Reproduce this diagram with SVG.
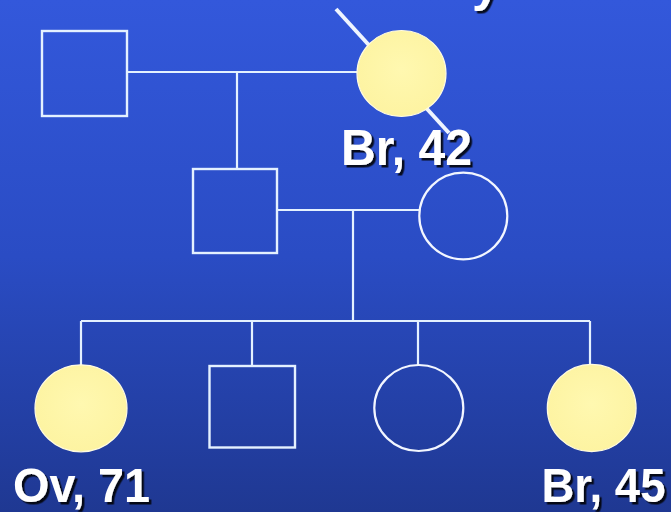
<svg xmlns="http://www.w3.org/2000/svg" width="671" height="512" viewBox="0 0 671 512">
  <defs>
    <linearGradient id="bg" x1="0" y1="0" x2="0" y2="1">
      <stop offset="0" stop-color="#3358db"/>
      <stop offset="0.5" stop-color="#2a4cc4"/>
      <stop offset="1" stop-color="#1f3892"/>
    </linearGradient>
    <radialGradient id="yel" cx="0.5" cy="0.45" r="0.6">
      <stop offset="0" stop-color="#fff8b0"/>
      <stop offset="1" stop-color="#fdf3a0"/>
    </radialGradient>
    <filter id="sh" x="-10%" y="-10%" width="130%" height="140%">
      <feDropShadow dx="2.5" dy="2.5" stdDeviation="0.6" flood-color="#000" flood-opacity="0.85"/>
    </filter>
  </defs>
  <style>
    .ln { stroke: #e4f1ff; stroke-width: 2.2; fill: none; }
    .sq { stroke: #e4f1ff; stroke-width: 2.4; fill: none; }
    .open { stroke: #f2f6ff; stroke-width: 2.2; fill: none; }
    .aff { fill: url(#yel); stroke: #fffbe0; stroke-width: 1.2; }
    .lbl { font-family: "Liberation Sans", Arial, sans-serif; font-weight: bold; font-size: 50px; fill: #ffffff; filter: url(#sh); }
    .lbl2 { font-family: "Liberation Sans", Arial, sans-serif; font-weight: bold; font-size: 48px; fill: #ffffff; filter: url(#sh); }
    .dead { stroke: #eef4ff; stroke-width: 4; stroke-linecap: butt; }
  </style>
  <rect x="0" y="0" width="671" height="512" fill="url(#bg)"/>

  <text id="title" class="lbl" x="472" y="1">y</text>

  <g id="connectors">
    <line class="ln" x1="127" y1="72" x2="357" y2="72"/>
    <line class="ln" x1="237" y1="72" x2="237" y2="169"/>
    <line class="ln" x1="277" y1="210" x2="419" y2="210"/>
    <line class="ln" x1="353" y1="210" x2="353" y2="321"/>
    <line class="ln" x1="81" y1="321" x2="590" y2="321"/>
    <line class="ln" x1="81" y1="321" x2="81" y2="365"/>
    <line class="ln" x1="252" y1="321" x2="252" y2="366"/>
    <line class="ln" x1="418" y1="321" x2="418" y2="365"/>
    <line class="ln" x1="590" y1="321" x2="590" y2="364"/>
  </g>

  <g id="gf">
    <rect class="sq" x="42" y="31" width="85" height="85"/>
  </g>

  <g id="gm">
    <line class="dead" x1="336" y1="9" x2="449" y2="133"/>
    <ellipse class="aff" cx="401.5" cy="73.5" rx="44.5" ry="43"/>
    <text class="lbl" x="341" y="165" textLength="131" lengthAdjust="spacingAndGlyphs">Br, 42</text>
  </g>

  <g id="father">
    <rect class="sq" x="193" y="169" width="84" height="84"/>
  </g>

  <g id="mother">
    <ellipse class="open" cx="463.3" cy="216" rx="44" ry="43.3"/>
  </g>

  <g id="c1">
    <ellipse class="aff" cx="81" cy="408.3" rx="46" ry="43.5"/>
    <text class="lbl2" x="13" y="501.5" textLength="137" lengthAdjust="spacingAndGlyphs">Ov, 71</text>
  </g>

  <g id="c2">
    <rect class="sq" x="209.5" y="366" width="85.5" height="81.5"/>
  </g>

  <g id="c3">
    <ellipse class="open" cx="418.8" cy="408" rx="44.5" ry="43"/>
  </g>

  <g id="c4">
    <ellipse class="aff" cx="591.7" cy="408" rx="44.4" ry="43.7"/>
    <text class="lbl2" x="541.5" y="501.5" textLength="124" lengthAdjust="spacingAndGlyphs">Br, 45</text>
  </g>
</svg>
